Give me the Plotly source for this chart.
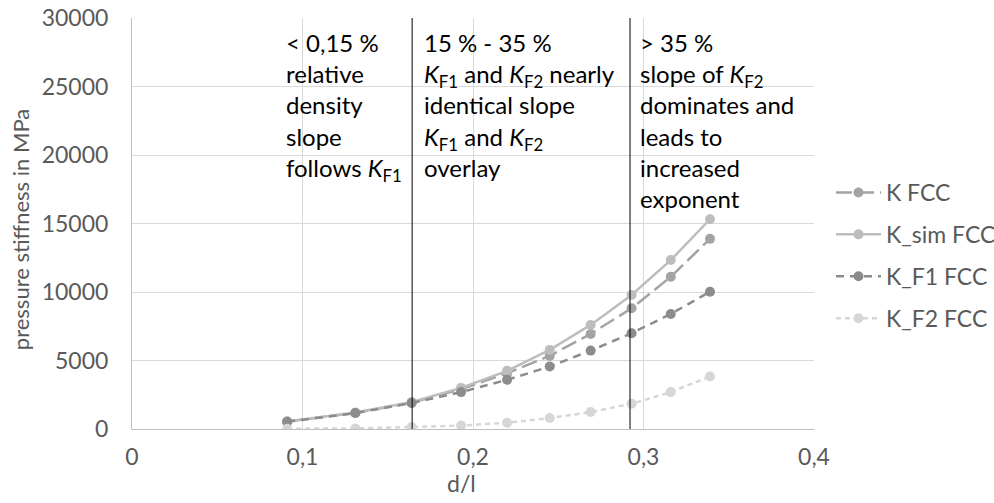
import plotly.graph_objects as go

# ---- data ----
d_l = [0.091, 0.131, 0.164, 0.193, 0.220, 0.245, 0.269, 0.293, 0.316, 0.339]
k_fcc = [540, 1170, 1920, 2900, 4070, 5340, 6940, 8810, 11110, 13880]
k_sim_fcc = [553, 1209, 1966, 3000, 4245, 5774, 7596, 9780, 12330, 15310]
k_f1_fcc = [532, 1165, 1893, 2694, 3590, 4558, 5723, 6990, 8395, 10020]
k_f2_fcc = [20, 44, 146, 250, 459, 801, 1238, 1842, 2694, 3830]
series_names = ["K FCC", "K_sim FCC", "K_F1 FCC", "K_F2 FCC"]
region_bounds = [0.1643, 0.2921]

x_tickvals = [0, 0.1, 0.2, 0.3, 0.4]
x_ticktext = ["0", "0,1", "0,2", "0,3", "0,4"]
y_tickvals = [0, 5000, 10000, 15000, 20000, 25000, 30000]
y_ticktext = ["0", "5000", "10000", "15000", "20000", "25000", "30000"]

region_texts = [
    "&lt; 0,15 %<br>relative<br>density<br>slope<br>follows <i>K</i><sub>F1</sub>",
    "15 % - 35 %<br><i>K</i><sub>F1</sub> and <i>K</i><sub>F2</sub> nearly<br>identical slope<br>"
    "<i>K</i><sub>F1</sub> and <i>K</i><sub>F2</sub><br>overlay",
    "&gt; 35 %<br>slope of <i>K</i><sub>F2</sub><br>dominates and<br>leads to<br>increased<br>exponent",
]

FONT = "Lato"
TXT = "#595959"

styles = [
    dict(color="#A3A3A3", dash="16px,6px"),
    dict(color="#BDBDBD", dash="solid"),
    dict(color="#8C8C8C", dash="8px,6px"),
    dict(color="#D6D6D6", dash="5px,4px"),
]

fig = go.Figure()
for name, ys, st in zip(series_names, [k_fcc, k_sim_fcc, k_f1_fcc, k_f2_fcc], styles):
    fig.add_trace(go.Scatter(
        x=d_l, y=ys, name=name, mode="lines+markers", legendgroup=name,
        line=dict(color=st["color"], width=2.5, dash=st["dash"]),
        marker=dict(color=st["color"], size=10),
    ))

for xb in region_bounds:
    fig.add_shape(type="line", xref="x", yref="y", x0=xb, x1=xb, y0=0, y1=30000,
                  line=dict(color="black", width=1), layer="above")

ann_x = [0.0893, 0.1698, 0.2965]
for xt, txt in zip(ann_x, region_texts):
    fig.add_annotation(x=xt, y=1, xref="x", yref="paper", yshift=-8,
                       xanchor="left", yanchor="top", align="left", showarrow=False,
                       text=txt, font=dict(family=FONT, size=24, color="black"))

fig.add_annotation(x=-0.1635, y=0.485, xref="paper", yref="paper", textangle=-90,
                   text="pressure stiffness in MPa", showarrow=False,
                   xanchor="center", yanchor="middle",
                   font=dict(family=FONT, size=22, color=TXT))
fig.add_annotation(x=0.483, y=-0.131, xref="paper", yref="paper",
                   text="d/l", showarrow=False, xanchor="center", yanchor="middle",
                   font=dict(family=FONT, size=23, color=TXT))

fig.update_layout(
    width=994, height=503,
    margin=dict(l=132, r=180, t=18, b=74),
    paper_bgcolor="white", plot_bgcolor="white",
    font=dict(family=FONT, size=23, color=TXT),
    showlegend=True,
    legend=dict(xref="container", yref="container", x=0.836, y=0.66,
                xanchor="left", yanchor="top",
                itemwidth=45, tracegroupgap=9,
                font=dict(family=FONT, size=23, color=TXT),
                bgcolor="rgba(0,0,0,0)"),
    xaxis=dict(range=[0, 0.4], tickvals=x_tickvals, ticktext=x_ticktext,
               showgrid=True, gridcolor="#D9D9D9", gridwidth=1,
               showline=True, linecolor="#BFBFBF", linewidth=1,
               zeroline=False, ticks="", ticklabelstandoff=7, automargin=False,
               tickfont=dict(family=FONT, size=23, color=TXT)),
    yaxis=dict(range=[0, 30000], tickvals=y_tickvals, ticktext=y_ticktext,
               showgrid=True, gridcolor="#D9D9D9", gridwidth=1,
               showline=True, linecolor="#BFBFBF", linewidth=1,
               zeroline=False, ticks="", ticklabelstandoff=18, automargin=False,
               tickfont=dict(family=FONT, size=23, color=TXT)),
)

fig.write_html("out.html", config={"displayModeBar": False},
               post_script="document.body.style.margin='0px';")
